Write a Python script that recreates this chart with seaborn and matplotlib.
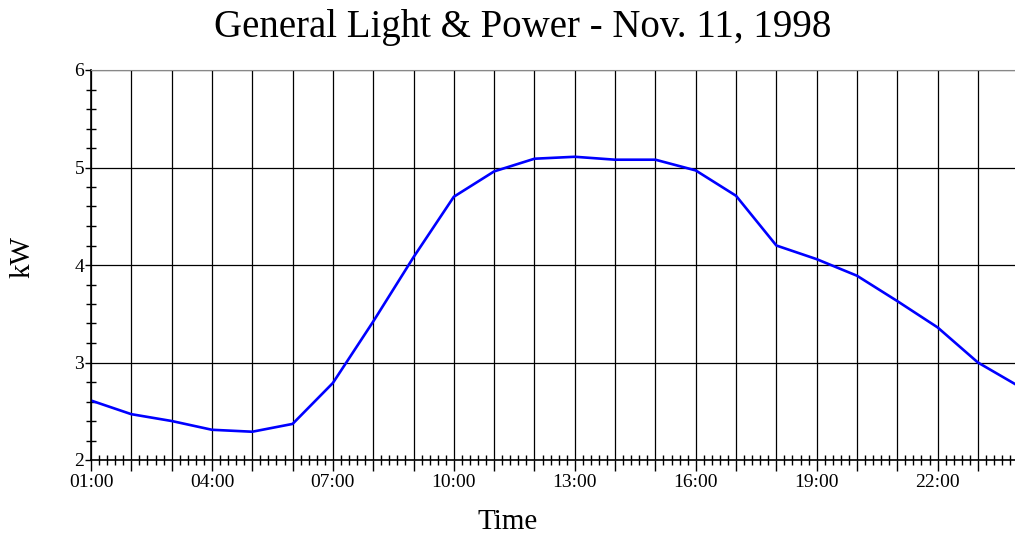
import numpy as np
import pandas as pd
import matplotlib
matplotlib.use("Agg")
import matplotlib.pyplot as plt
import matplotlib.ticker as mticker
import seaborn as sns

# hourly load readings
hours = [1, 2, 3, 4, 5, 6, 7, 8, 9, 10, 11, 12,
         13, 14, 15, 16, 17, 18, 19, 20, 21, 22, 23, 24]
kw = [2.61, 2.47, 2.40, 2.31, 2.29, 2.37, 2.79, 3.42, 4.08, 4.70, 4.96, 5.09,
      5.11, 5.08, 5.08, 4.97, 4.71, 4.20, 4.06, 3.89, 3.63, 3.36, 3.00, 2.76]

title = "General Light & Power - Nov. 11, 1998"

df = pd.DataFrame({"hour": hours, "kW": kw})

sns.set_style("white", {"xtick.bottom": True, "ytick.left": True,
                        "text.color": "black", "xtick.color": "black",
                        "ytick.color": "black", "axes.labelcolor": "black"})
plt.rcParams["font.family"] = ["Liberation Serif", "DejaVu Serif"]

fig = plt.figure(figsize=(10.15, 5.39), dpi=100)
ax = fig.add_axes([91 / 1015, 79 / 539, 924 / 1015, 390 / 539])

sns.lineplot(data=df, x="hour", y="kW", color="#0000ff", linewidth=1.9, ax=ax)

ax.set_xlim(1, 23.92)
ax.set_ylim(2, 6)

# hour grid, labels every three hours
ax.xaxis.set_major_locator(mticker.MultipleLocator(1))
ax.xaxis.set_minor_locator(mticker.MultipleLocator(0.2))
ax.xaxis.set_major_formatter(mticker.FuncFormatter(
    lambda v, p: f"{int(round(v)):02d}:00" if int(round(v)) % 3 == 1 else ""))
ax.yaxis.set_major_locator(mticker.MultipleLocator(1))
ax.yaxis.set_minor_locator(mticker.MultipleLocator(0.2))

ax.grid(True, which="major", color="black", linewidth=0.9)

ax.tick_params(axis="x", which="major", direction="out", length=8, width=1,
               labelsize=14, pad=2, color="black", labelcolor="black")
ax.tick_params(axis="x", which="minor", direction="inout", length=7, width=1,
               color="black")
ax.tick_params(axis="y", which="major", direction="out", length=4, width=1,
               labelsize=14, pad=1, color="black", labelcolor="black")
ax.tick_params(axis="y", which="minor", direction="inout", length=7, width=1,
               color="black")

for side in ["left", "bottom"]:
    ax.spines[side].set_color("black")
    ax.spines[side].set_linewidth(1.2)
ax.spines["top"].set_color("#888888")
ax.spines["right"].set_visible(False)

ax.set_xlabel("")
ax.set_ylabel("")
fig.text(508 / 1015, 1 - 522 / 539, "Time", fontsize=21, ha="center", va="center")
fig.text(22 / 1015, 1 - 257 / 539, "kW", fontsize=21, ha="center", va="center",
         rotation=90)
fig.text(523 / 1015, 1 - 27 / 539, title, fontsize=28, ha="center", va="center")

fig.savefig("out.png", dpi=100)
